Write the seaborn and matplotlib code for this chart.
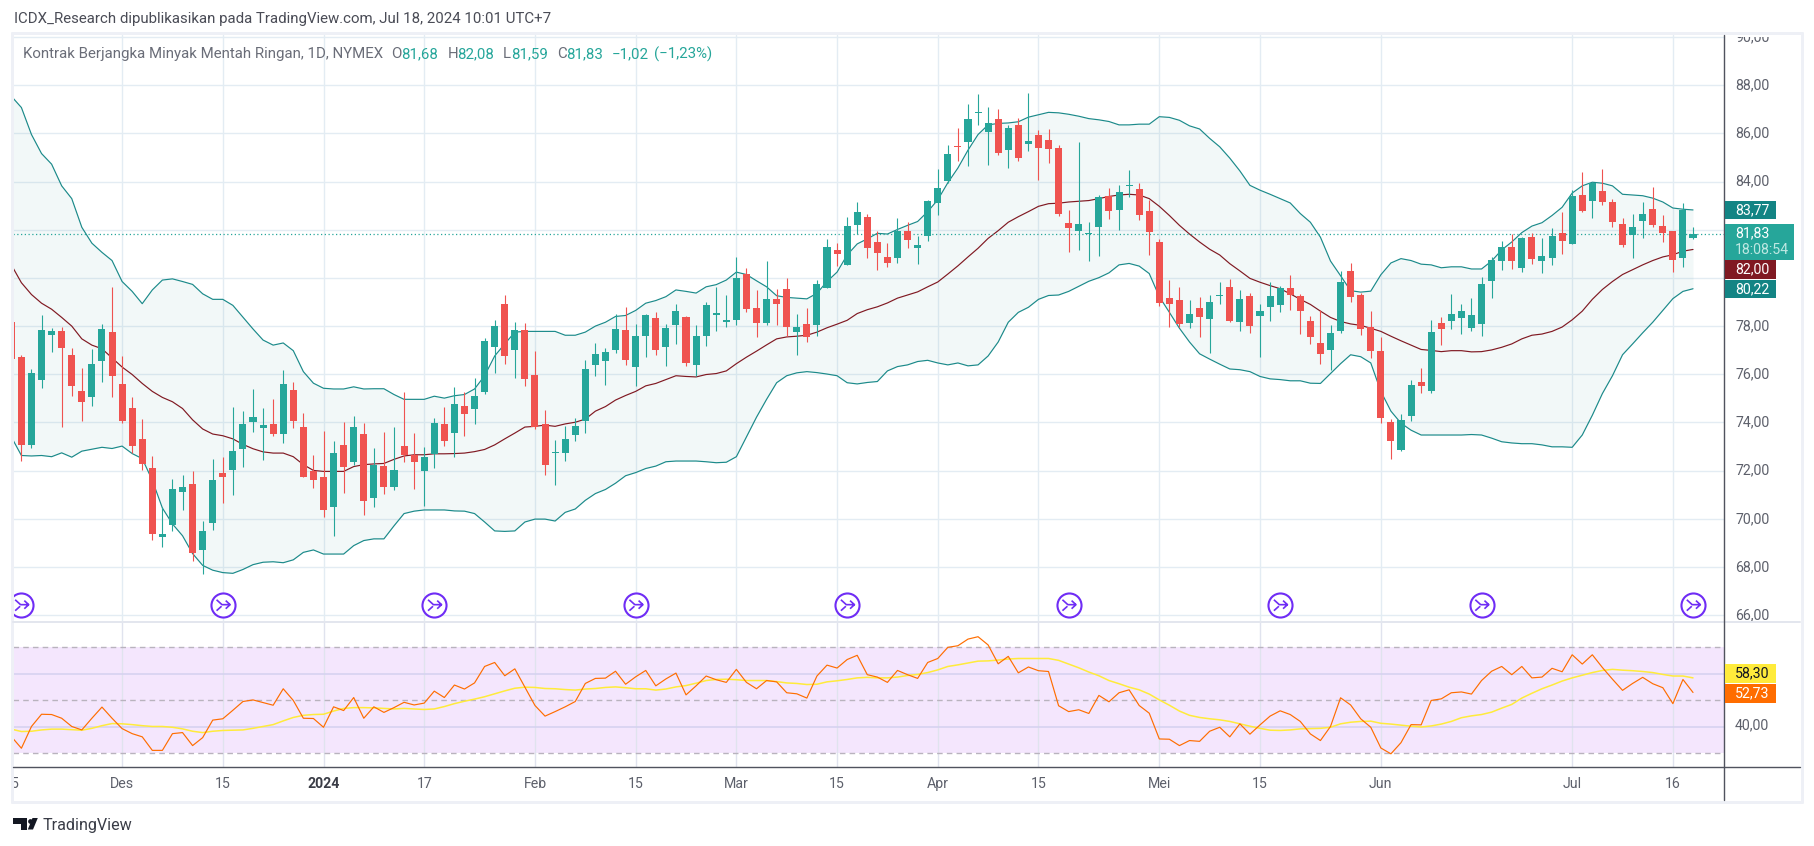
import numpy as np
import pandas as pd
import seaborn as sns
import matplotlib
matplotlib.use("Agg")
import matplotlib.pyplot as plt
from matplotlib.patches import Rectangle, Polygon
from matplotlib.path import Path
from matplotlib.transforms import blended_transform_factory

# ---------- data (first bar is index -1, partly cut off by the left edge) ----------
opens = [78.15,
 76.71,73.07,75.76,77.63,77.80,76.80,75.30,75.06,76.55,77.75,
 75.60,74.60,73.32,72.10,69.26,69.74,71.12,71.45,68.71,69.82,
 71.91,72.02,72.89,74.02,73.78,73.94,73.52,75.35,73.81,71.99,
 71.74,70.50,73.07,72.37,73.52,70.87,72.19,71.31,73.02,72.63,
 71.99,72.70,73.94,73.56,74.68,74.57,75.27,77.12,78.91,77.01,
 77.83,75.98,73.94,72.74,72.73,73.48,74.06,76.39,76.55,77.01,
 77.83,76.31,77.58,78.34,77.12,78.04,78.37,76.39,77.58,78.47,
 78.17,78.26,80.16,78.75,78.12,79.13,79.54,77.75,78.09,78.04,
 79.60,81.16,80.54,82.21,82.52,81.49,80.87,80.83,81.95,81.26,
 81.72,83.11,84.02,85.48,85.66,86.84,86.05,86.59,85.31,86.35,
 85.56,85.94,85.72,85.39,82.28,81.95,81.82,82.11,83.39,82.82,
 83.82,83.69,82.77,81.49,79.16,79.08,78.11,78.75,78.29,79.26,
 79.62,78.17,79.24,78.42,78.80,78.88,79.59,79.24,78.21,77.30,
 77.01,77.80,80.29,79.29,77.96,76.96,74.02,72.86,74.27,75.68,
 75.30,78.12,78.21,78.34,77.91,78.09,79.86,80.70,81.28,80.41,
 81.69,80.70,80.83,81.87,81.41,83.44,83.20,83.61,83.15,82.23,
 81.78,82.36,82.85,82.15,81.95,80.83,81.65]
closes = [76.63,
 73.07,76.06,77.83,77.78,77.09,75.51,74.84,76.42,77.88,75.93,
 74.06,73.02,72.28,69.36,69.36,71.23,71.31,68.58,69.50,71.61,
 71.74,72.81,73.94,74.22,73.89,73.52,75.60,74.06,71.74,71.61,
 70.36,72.73,72.15,73.81,70.74,72.25,71.31,72.02,72.63,72.37,
 72.56,73.97,73.24,74.76,74.35,75.11,77.39,78.01,76.76,77.83,
 75.80,73.81,72.24,72.78,73.32,73.86,76.22,76.85,76.93,77.88,
 76.60,77.58,78.45,77.01,77.91,78.62,76.47,77.58,78.88,78.54,
 78.26,80.00,78.72,78.12,79.13,78.91,77.97,77.96,77.55,79.75,
 81.28,81.01,82.15,82.74,81.24,81.03,80.62,81.95,81.57,81.36,
 83.20,83.74,85.15,85.43,86.59,86.90,86.43,85.18,86.21,84.97,
 85.67,85.39,85.34,82.65,82.06,82.23,81.88,83.36,82.77,83.56,
 83.87,82.60,81.90,78.96,78.91,78.08,78.50,78.36,78.99,79.29,
 78.21,79.13,78.01,78.62,79.24,79.59,79.29,78.62,77.55,76.85,
 77.71,79.83,79.21,77.88,76.96,74.19,73.24,74.11,75.55,75.51,
 77.75,77.88,78.50,78.62,78.45,79.75,80.73,81.28,80.70,81.65,
 80.78,80.91,81.74,81.54,83.39,82.77,83.93,83.15,82.33,81.36,
 82.11,82.65,82.19,81.87,80.73,82.83,81.82]
highs = [78.15,
 76.81,76.22,78.45,77.91,77.96,77.09,76.26,77.04,78.08,79.62,
 76.76,75.06,74.14,72.61,70.50,71.64,71.82,71.99,69.91,72.48,
 72.56,74.65,74.48,75.38,74.60,74.99,76.17,75.68,74.40,72.65,
 73.65,73.24,74.02,74.27,73.96,72.94,73.60,73.83,75.25,73.56,
 72.97,74.17,74.65,75.47,75.25,75.84,77.50,78.24,79.29,78.17,
 78.12,76.96,74.52,73.27,73.86,74.20,76.58,77.29,77.09,78.49,
 78.81,78.08,78.52,78.58,78.08,78.91,78.42,78.03,78.98,79.62,
 79.31,80.87,80.39,79.50,80.70,79.55,80.00,78.49,78.75,79.91,
 81.62,81.44,82.52,83.15,82.64,81.93,81.44,82.49,82.34,81.72,
 83.23,84.52,85.51,86.21,87.20,87.63,87.08,87.00,86.36,86.64,
 87.67,86.12,86.18,85.51,82.83,85.64,82.33,83.44,83.74,83.85,
 84.48,83.93,83.24,81.60,79.91,79.62,79.08,79.22,79.29,79.85,
 79.95,79.50,79.36,78.91,79.85,79.67,80.13,79.32,78.42,78.65,
 78.04,80.27,80.62,79.39,78.62,77.55,74.14,74.35,75.78,76.26,
 78.27,78.36,79.32,78.91,79.16,80.03,80.87,81.54,81.82,81.69,
 81.88,81.65,82.06,82.74,83.64,84.39,83.98,84.52,83.29,82.49,
 82.65,83.15,83.77,82.60,81.95,83.11,82.11]
lows = [76.63,
 72.41,72.96,75.45,76.93,73.81,75.10,74.06,74.67,75.70,75.07,
 73.96,72.73,72.04,69.12,68.84,69.51,70.36,68.27,67.72,69.54,
 70.66,70.99,72.15,73.61,72.45,73.42,73.16,73.78,71.74,71.28,
 70.07,69.28,71.07,72.25,70.17,70.50,71.04,71.20,72.37,71.22,
 70.53,72.10,73.02,72.56,73.43,73.94,75.20,76.06,76.42,75.84,
 75.52,73.73,71.84,71.40,72.40,73.24,73.56,75.94,75.57,76.88,
 76.39,75.52,76.71,76.80,76.34,77.26,76.34,75.94,77.17,77.80,
 77.98,78.04,78.58,77.55,78.03,78.04,77.58,76.80,77.34,77.58,
 79.60,80.49,80.54,81.82,80.83,80.32,80.46,80.62,81.24,80.57,
 81.55,82.60,83.95,84.85,84.64,86.35,84.69,85.10,84.56,84.85,
 85.26,84.06,84.77,82.57,81.08,81.16,80.70,80.91,82.46,81.98,
 83.36,82.41,80.95,78.83,77.98,77.95,77.91,77.55,76.88,78.91,
 78.16,77.80,77.72,76.71,78.21,78.58,78.67,77.67,77.26,76.42,
 76.17,77.71,78.99,77.63,76.68,73.97,72.50,72.83,74.06,75.22,
 75.22,77.21,77.88,77.67,77.78,77.58,79.16,80.32,80.37,80.24,
 80.57,80.21,80.54,81.00,81.41,82.72,82.49,83.03,82.11,81.28,
 80.83,81.65,82.11,81.49,80.24,80.46,81.62]

bb_upper = [87.54,
 87.07,85.95,85.16,84.72,83.82,83.29,82.10,81.44,81.06,80.72,
 79.85,79.44,78.93,79.50,79.91,79.96,79.85,79.73,79.34,79.11,
 79.11,78.86,78.37,77.88,77.42,77.21,77.30,76.98,76.11,75.63,
 75.42,75.39,75.39,75.48,75.39,75.40,75.40,75.16,74.96,74.96,
 74.96,75.09,75.01,75.11,75.16,75.39,75.94,76.76,77.26,77.75,
 77.78,77.78,77.78,77.78,77.62,77.62,77.75,78.00,78.16,78.40,
 78.44,78.65,78.95,79.06,79.22,79.50,79.44,79.37,79.63,79.72,
 79.91,80.24,80.14,79.88,79.63,79.26,79.19,79.16,79.13,79.36,
 79.85,80.24,80.95,81.41,81.62,81.85,81.82,82.01,82.18,82.34,
 82.75,83.24,83.95,84.56,85.30,85.95,86.35,86.41,86.43,86.48,
 86.67,86.77,86.87,86.85,86.79,86.71,86.61,86.56,86.49,86.35,
 86.35,86.38,86.38,86.69,86.66,86.54,86.31,86.18,85.79,85.44,
 84.97,84.44,83.84,83.64,83.47,83.29,83.11,82.67,82.31,81.69,
 80.70,80.09,79.47,79.41,79.45,80.13,80.62,80.80,80.72,80.57,
 80.54,80.42,80.46,80.46,80.37,80.37,80.70,81.16,81.49,81.88,
 82.15,82.29,82.59,82.93,83.52,83.82,83.97,83.93,83.82,83.47,
 83.44,83.41,83.31,83.15,82.90,82.85,82.82]
bb_basis = [80.54,
 79.80,79.31,78.95,78.70,78.36,78.00,77.47,77.21,77.06,76.68,
 76.30,75.99,75.62,75.29,75.04,74.86,74.58,74.11,73.73,73.52,
 73.45,73.32,73.09,72.91,72.78,72.73,72.73,72.58,72.25,72.01,
 71.97,71.97,71.97,72.17,72.25,72.28,72.30,72.47,72.61,72.66,
 72.66,72.70,72.70,72.71,72.73,72.79,72.88,73.07,73.32,73.56,
 73.81,73.84,73.89,73.84,73.94,74.01,74.14,74.47,74.66,74.93,
 75.12,75.29,75.52,75.62,75.78,75.94,75.91,75.89,75.99,76.03,
 76.14,76.44,76.71,76.96,77.22,77.47,77.55,77.58,77.62,77.75,
 77.93,78.08,78.24,78.52,78.68,78.80,78.96,79.16,79.29,79.42,
 79.63,79.83,80.16,80.50,80.87,81.23,81.64,81.96,82.31,82.54,
 82.75,82.97,83.08,83.10,83.15,83.18,83.21,83.29,83.38,83.44,
 83.47,83.44,83.29,82.97,82.59,82.18,81.82,81.49,81.19,80.95,
 80.59,80.29,79.98,79.82,79.68,79.55,79.34,79.11,78.90,78.62,
 78.36,78.19,78.09,78.03,77.91,77.78,77.58,77.39,77.21,77.03,
 76.99,76.94,76.98,76.98,76.93,76.94,77.01,77.12,77.26,77.47,
 77.62,77.67,77.78,77.96,78.26,78.62,79.11,79.52,79.85,80.14,
 80.34,80.54,80.72,80.87,80.96,81.11,81.18]
bb_lower = [73.40,
 72.63,72.61,72.63,72.58,72.74,72.56,72.81,72.89,72.97,72.92,
 73.02,72.71,72.50,71.60,70.45,69.79,69.30,68.56,68.07,67.87,
 67.77,67.74,67.90,68.10,68.20,68.22,68.18,68.30,68.61,68.71,
 68.54,68.54,68.54,68.89,69.10,69.17,69.17,69.71,70.22,70.32,
 70.37,70.37,70.37,70.33,70.32,70.22,69.87,69.50,69.48,69.50,
 69.87,69.99,69.99,69.91,70.27,70.41,70.77,71.05,71.22,71.48,
 71.79,71.92,72.09,72.19,72.37,72.40,72.40,72.40,72.37,72.33,
 72.35,72.58,73.40,74.22,74.96,75.65,75.94,76.06,76.11,76.07,
 76.01,75.94,75.65,75.60,75.66,75.70,76.14,76.32,76.39,76.53,
 76.58,76.47,76.39,76.47,76.35,76.39,76.76,77.34,78.16,78.57,
 78.78,79.11,79.27,79.29,79.44,79.65,79.86,80.01,80.21,80.54,
 80.60,80.49,80.18,79.22,78.57,77.91,77.34,76.85,76.63,76.42,
 76.22,76.19,76.11,75.91,75.81,75.78,75.73,75.73,75.63,75.62,
 76.03,76.44,76.81,76.73,76.47,75.29,74.47,73.97,73.68,73.48,
 73.48,73.48,73.48,73.48,73.50,73.48,73.35,73.20,73.15,73.12,
 73.12,73.07,72.99,72.99,72.97,73.48,74.30,75.20,75.94,76.81,
 77.26,77.72,78.16,78.65,79.14,79.44,79.55]

rsi = [36.3,
 31.9,40.1,44.7,44.6,43.2,40.1,38.8,43.2,47.4,43.2,
 39.3,37.4,36.2,31.1,31.1,37.4,37.8,32.9,35.9,42.5,
 43.0,46.2,49.5,50.1,49.1,48.1,54.3,49.9,43.2,43.1,
 39.8,47.5,46.1,51.0,43.2,47.5,45.4,47.2,49.2,48.2,
 48.9,53.4,51.0,55.7,54.2,56.5,62.7,64.2,59.2,61.8,
 54.9,48.0,44.0,45.7,47.5,49.5,56.3,58.2,58.3,60.9,
 56.0,58.8,61.2,55.4,58.0,60.2,52.0,55.4,59.1,57.7,
 56.7,61.6,56.7,54.3,57.4,56.9,52.8,52.4,50.8,59.1,
 63.2,62.1,65.3,66.9,59.6,58.7,56.7,61.2,59.6,58.2,
 64.2,65.7,69.9,70.5,73.0,73.9,70.8,63.7,66.5,60.3,
 62.5,61.1,60.8,47.9,45.7,46.4,45.0,51.8,49.4,52.8,
 53.9,48.0,45.1,35.4,35.3,32.9,34.8,34.5,38.3,39.8,
 36.2,41.1,37.2,40.7,44.0,46.0,44.6,42.0,37.3,34.8,
 40.1,50.9,48.2,43.0,39.8,32.0,29.8,34.0,40.8,40.7,
 49.9,50.5,52.8,53.1,52.3,57.4,60.9,62.7,59.6,62.7,
 58.4,58.7,62.0,60.7,67.1,63.6,67.1,62.3,57.9,53.7,
 56.3,58.6,56.2,54.7,48.7,57.8,52.9]
rsi_ma = [39.1,
 38.2,38.3,38.8,39.1,39.1,38.9,38.7,39.4,40.4,41.2,
 41.1,40.8,40.4,40.1,40.1,39.8,39.2,38.3,37.8,38.3,
 38.6,38.7,38.8,39.4,40.1,40.8,42.2,43.5,44.3,44.6,
 44.7,45.9,46.9,47.2,47.2,47.1,46.9,46.7,46.9,46.7,
 46.5,46.7,47.6,48.7,49.6,50.4,51.3,52.4,53.5,54.5,
 54.9,54.8,54.4,54.3,54.0,53.8,54.2,54.4,54.8,55.0,
 54.7,54.3,54.3,53.8,54.2,55.0,55.5,56.4,57.4,57.8,
 57.9,57.7,57.4,57.4,57.4,57.0,56.5,56.3,55.9,56.0,
 56.9,57.3,57.8,58.4,58.6,58.4,58.4,58.7,59.3,59.7,
 60.4,61.4,62.7,63.3,64.0,64.7,64.8,65.1,65.5,65.7,
 65.7,65.7,65.7,65.0,63.6,62.2,60.6,59.2,57.4,56.2,
 54.9,53.9,52.3,50.1,48.1,45.9,44.3,43.5,43.0,42.6,
 42.0,41.1,40.2,39.4,38.7,38.6,38.8,39.2,39.3,39.4,
 39.8,41.1,41.7,42.0,42.1,41.3,41.0,40.6,40.2,39.9,
 40.3,41.0,42.0,43.4,44.1,44.6,45.5,47.0,48.4,50.8,
 52.6,54.3,55.7,57.2,58.4,59.4,60.4,61.2,61.6,61.3,
 61.1,60.8,60.4,59.7,59.1,59.1,58.4]

price_ticks = [66, 68, 70, 72, 74, 76, 78, 80, 82, 84, 86, 88, 90]
price_labels = [66, 68, 70, 72, 74, 76, 78, 84, 86, 88, 90]  # 80 and 82 sit behind the value tags
time_labels = ["15", "Des", "15", "2024", "17", "Feb", "15", "Mar", "15", "Apr", "15",
               "Mei", "15", "Jun", "Jul", "16"]
time_bars = [-1, 10, 20, 30, 40, 51, 61, 71, 81, 91, 101, 113, 123, 135, 154, 164]
rollover_bars = [0, 20, 41, 61, 82, 104, 125, 145, 166]

# ---------- style ----------
W, H = 1814, 846
FONT = "Roboto"
GRID = "#E3ECF3"
GREEN, RED = "#26A69A", "#EF5350"
BAND, BASIS = "#1B8A8A", "#801922"
TEXT = "#5D606B"
HEAD_FS = 10.8

sns.set_style("white")
plt.rcParams["font.family"] = [FONT, "DejaVu Sans"]
fig = plt.figure(figsize=(W / 100, H / 100), dpi=100, facecolor="white")


def box(l, t, r, b):
    return [l / W, 1 - b / H, (r - l) / W, (b - t) / H]


def px(x, y):
    return x / W, 1 - y / H


L_PX, R_PX = 13, 1724
xlim = ((L_PX - 21.4) / 10.07, (R_PX - 21.4) / 10.07)
ax = fig.add_axes(box(L_PX, 35, R_PX, 622))
ax2 = fig.add_axes(box(L_PX, 622, R_PX, 767))
axt = fig.add_axes(box(L_PX, 767, R_PX, 800))

df = pd.DataFrame({"bar": np.arange(len(opens)) - 1, "open": opens, "high": highs, "low": lows,
                   "close": closes, "upper": bb_upper, "basis": bb_basis, "lower": bb_lower,
                   "rsi": rsi, "rsi_ma": rsi_ma})

for a in (ax, ax2, axt):
    a.set_xlim(*xlim)
    a.set_xticks([])
    a.set_yticks([])
    for s in a.spines.values():
        s.set_visible(False)
    a.patch.set_alpha(0)

ax.set_ylim(65.72, 90.08)
ax2.set_ylim(24.84, 79.44)
axt.set_ylim(0, 1)

# grids
for t in price_ticks:
    ax.axhline(t, color=GRID, lw=1.0, zorder=0)
for b in time_bars[1:]:
    ax.axvline(b, color=GRID, lw=1.0, zorder=0.5)

# Bollinger bands
ax.fill_between(df["bar"], df["lower"], df["upper"], color="#138484", alpha=0.05, lw=0, zorder=1)
for col, c in (("upper", BAND), ("lower", BAND), ("basis", BASIS)):
    sns.lineplot(data=df, x="bar", y=col, ax=ax, color=c, lw=0.85, errorbar=None, sort=False, zorder=2)

ax.axhline(closes[-1], color=GREEN, lw=0.9, ls=(0, (1, 2)), zorder=2.5)

# candles
up = df[df["close"] >= df["open"]]
dn = df[df["close"] < df["open"]]
for part, c in ((up, GREEN), (dn, RED)):
    ax.vlines(part["bar"], part["low"], part["high"], color=c, lw=0.8, zorder=3)
    ax.bar(part["bar"], (part["close"] - part["open"]).abs(), bottom=part[["open", "close"]].min(axis=1),
           width=0.7, color=c, lw=0, zorder=4)

# contract roll-over icons
trans = blended_transform_factory(ax.transData, ax.transAxes)
glyph = Path([(-0.6, 0.5), (-0.08, 0.03), (0.7, 0.03),
              (-0.6, -0.55), (-0.12, -0.12),
              (0.28, 0.42), (0.7, 0.03), (0.28, -0.36)],
             [Path.MOVETO, Path.LINETO, Path.LINETO,
              Path.MOVETO, Path.LINETO,
              Path.MOVETO, Path.LINETO, Path.LINETO])
for b in rollover_bars:
    ax.scatter([b], [0.029], s=300, facecolor="white", edgecolor="#6F2CF5", lw=1.5, transform=trans,
               zorder=6, clip_on=True)
    ax.scatter([b], [0.029], s=110, marker=glyph, facecolor="none", edgecolor="#6F2CF5", lw=1.2,
               transform=trans, zorder=7, clip_on=True)

# header texts
fig.text(*px(13.5, 19.5), "ICDX_Research dipublikasikan pada TradingView.com, Jul 18, 2024 10:01 UTC+7",
         fontsize=HEAD_FS, color="#4A4C56", va="center", ha="left")
LEG_Y = 54
fig.text(*px(23.3, LEG_Y), "Kontrak Berjangka Minyak Mentah Ringan, 1D, NYMEX", fontsize=HEAD_FS,
         color="#6A6D78", va="center")
for x, s, c in ((391, "O", "#6A6D78"), (400.7, "81,68", GREEN), (447.7, "H", "#6A6D78"), (457, "82,08", GREEN),
                (503, "L", "#6A6D78"), (511, "81,59", GREEN), (557, "C", "#6A6D78"), (566, "81,83", GREEN),
                (611.5, "\u22121,02", GREEN), (653.6, "(\u22121,23%)", GREEN)):
    fig.text(*px(x, LEG_Y), s, fontsize=HEAD_FS, color=c, va="center")

# price scale labels
lab = blended_transform_factory(fig.transFigure, ax.transData)
for t in price_labels:
    txt = fig.text(1735 / W, t, f"{t},00", transform=lab, fontsize=10.2, color=TEXT, va="center", ha="left")
    txt.set_clip_path(Rectangle((R_PX, H - 622), 90, 622 - 37, transform=None))

# RSI pane
ax2.axhspan(30, 70, color="#F4E6FD", lw=0, zorder=0)
for b in time_bars[1:]:
    ax2.axvline(b, color="#E0E3EE", lw=1.0, zorder=0.5)
for t in (40, 60):
    ax2.axhline(t, color="#D6D2F0", lw=1.2, zorder=0.6)
for t in (30, 50, 70):
    ax2.axhline(t, color="#B9B3BE", lw=1.0, ls=(0, (4, 3)), zorder=0.7)
sns.lineplot(data=df, x="bar", y="rsi_ma", ax=ax2, color="#FFEB3B", lw=1.1, errorbar=None, sort=False, zorder=2)
sns.lineplot(data=df, x="bar", y="rsi", ax=ax2, color="#FF6D00", lw=0.85, errorbar=None, sort=False, zorder=3)
fig.text(1735 / W, 1 - 725.5 / H, "40,00", fontsize=10.2, color=TEXT, va="center")

# time axis
for b, s in zip(time_bars, time_labels):
    bold = s == "2024"
    axt.text(b, 0.5, s, ha="center", va="center", fontsize=10.2, clip_on=True,
             color="#3A3C46" if bold else TEXT, fontweight="bold" if bold else "normal")
for a in (ax, ax2, axt):
    a.set_xlabel("")
    a.set_ylabel("")


# value tags
def tag(t, b, r, color):
    fig.add_artist(Rectangle((1725 / W, 1 - b / H), (r - 1725) / W, (b - t) / H, transform=fig.transFigure,
                             facecolor=color, edgecolor="none", zorder=10))


def tagtext(y, s, color="white", **kw):
    fig.text(1735 / W, 1 - y / H, s, fontsize=10.2, color=color, va="center", zorder=11, **kw)


tag(201, 219.5, 1776, "#138484"); tagtext(210.5, "83,77")
tag(224.5, 260, 1794, GREEN); tagtext(233.5, "81,83"); tagtext(249.5, "18:08:54", "#BFE8E2")
tag(260, 279, 1776, BASIS); tagtext(269.5, "82,00")
tag(280, 298.5, 1776, "#138484"); tagtext(289.5, "80,22")
tag(664, 683, 1776, "#FFEB3B"); tagtext(673.5, "58,30", "#131722")
tag(684, 703, 1776, "#FF6D00"); tagtext(693.5, "52,73")

# frame and separators
for (x0, y0, x1, y1, c, lw) in ((12, 33.5, 1802, 33.5, "#EEF0F6", 3), (12, 33.5, 12, 802, "#EEF0F6", 3),
                                (1802, 33.5, 1802, 802, "#EEF0F6", 3), (12, 802, 1802, 802, "#EEF0F6", 3),
                                (13, 622, 1800, 622, "#E3E6EE", 2.0), (13, 767, 1800, 767, "#50535E", 1.4),
                                (1724, 35, 1724, 800, "#50535E", 1.4)):
    fig.add_artist(plt.Line2D([x0 / W, x1 / W], [1 - y0 / H, 1 - y1 / H], color=c, lw=lw * 0.72,
                              transform=fig.transFigure, zorder=9))

# brand
logo = "#131722"
poly = [(13.3, 818), (26.7, 818), (26.7, 829.5), (20.5, 829.5), (20.5, 823.5), (13.3, 823.5)]
fig.add_artist(Polygon([px(*p) for p in poly], closed=True, transform=fig.transFigure, facecolor=logo, edgecolor="none"))
poly = [(32.5, 818), (37.8, 818), (33, 829.5), (27.8, 829.5)]
fig.add_artist(Polygon([px(*p) for p in poly], closed=True, transform=fig.transFigure, facecolor=logo, edgecolor="none"))
fig.add_artist(plt.Line2D([30 / W], [1 - 820.5 / H], marker="o", ms=3.4, color=logo, mec="none", transform=fig.transFigure))
fig.text(*px(42.5, 825), "TradingView", fontsize=11.6, color="#3A3D47", va="center")

fig.savefig("out.png", dpi=100, facecolor="white")
